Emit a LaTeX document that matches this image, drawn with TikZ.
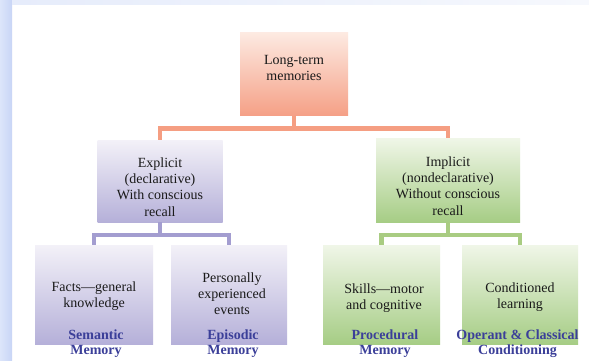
\documentclass[tikz,border=0pt]{standalone}
\usepackage{fontspec}
\setmainfont{Liberation Serif}
\definecolor{stripA}{HTML}{DCE5FA}
\definecolor{stripB}{HTML}{C8D5F6}
\definecolor{topA}{HTML}{E6ECFB}
\definecolor{topB}{HTML}{F6F8FD}
\definecolor{orTop}{HTML}{FDEAE2}
\definecolor{orBot}{HTML}{F5A086}
\definecolor{orLine}{HTML}{F59E82}
\definecolor{puTop}{HTML}{F3F1F8}
\definecolor{puBot}{HTML}{B5B0D9}
\definecolor{puLine}{HTML}{A39DD0}
\definecolor{grTop}{HTML}{F0F6E8}
\definecolor{grBot}{HTML}{A6CD85}
\definecolor{grLine}{HTML}{A9CC82}
\definecolor{lbl}{HTML}{3B3F99}
\definecolor{txt}{HTML}{1A1A1A}
\tikzset{
  boxbase/.style={rectangle, inner sep=0pt, draw=none},
  orbox/.style={boxbase, top color=orTop, bottom color=orBot},
  pubox/.style={boxbase, top color=puTop, bottom color=puBot},
  grbox/.style={boxbase, top color=grTop, bottom color=grBot},
  boxtext/.style={inner sep=0pt, align=center, text=txt, font=\fontsize{14}{16.2}\selectfont},
  lbltext/.style={inner sep=0pt, align=center, text=lbl, font=\fontsize{14}{15}\selectfont\bfseries},
  orcon/.style={draw=orLine, line width=4.5pt},
  pucon/.style={draw=puLine, line width=4.5pt},
  grcon/.style={draw=grLine, line width=4.5pt}
}
\begin{document}
\begin{tikzpicture}[x=1pt,y=-1pt]
\useasboundingbox (0,0) rectangle (589,360);
% background
\fill[white] (0,0) rectangle (589,360);
\shade[left color=stripA, right color=stripB] (0,0) rectangle (12,360);
\shade[left color=topA, right color=topB] (12,0) rectangle (589,4);

% boxes
\node[orbox, minimum width=108pt, minimum height=83pt] (ltm) at (294,74) {};
\node[pubox, minimum width=125pt, minimum height=82pt] (exp) at (160,181) {};
\node[grbox, minimum width=144pt, minimum height=84pt] (imp) at (448,180) {};
\node[pubox, minimum width=118pt, minimum height=99pt] (sem) at (94,294.5) {};
\node[pubox, minimum width=116pt, minimum height=99pt] (epi) at (229,294.5) {};
\node[grbox, minimum width=117pt, minimum height=99pt] (pro) at (381.5,294.5) {};
\node[grbox, minimum width=116pt, minimum height=99pt] (con) at (520,294.5) {};

% connectors
\draw[orcon] (ltm.south) -- ++(0,13) coordinate (ltmbar);
\draw[orcon] (exp.north) |- (ltmbar) -| (imp.north);
\draw[pucon] (exp.south) -- ++(0,13) coordinate (expbar);
\draw[pucon] (sem.north) |- (expbar) -| (epi.north);
\draw[grcon] (imp.south) -- ++(0,13) coordinate (impbar);
\draw[grcon] (pro.north) |- (impbar) -| (con.north);

% box texts
\node[boxtext] (ltmt) at (294,68) {Long-term\\memories};
\node[boxtext] (expt) at (160,187) {Explicit\\(declarative)\\With conscious\\recall};
\node[boxtext] (impt) at (448,186) {Implicit\\(nondeclarative)\\Without conscious\\recall};
\node[boxtext] (semt) at (94,296) {Facts—general\\knowledge};
\node[boxtext] (epit) at (232,294) {Personally\\experienced\\events};
\node[boxtext] (prot) at (384,298) {Skills—motor\\and cognitive};
\node[boxtext] (cont) at (520,297) {Conditioned\\learning};

% labels
\node[lbltext] (seml) at (96,344) {Semantic\\Memory};
\node[lbltext] (epil) at (233,344) {Episodic\\Memory};
\node[lbltext] (prol) at (385,344) {Procedural\\Memory};
\node[lbltext] (conl) at (517.5,344) {Operant \& Classical\\Conditioning};
\end{tikzpicture}
\end{document}
